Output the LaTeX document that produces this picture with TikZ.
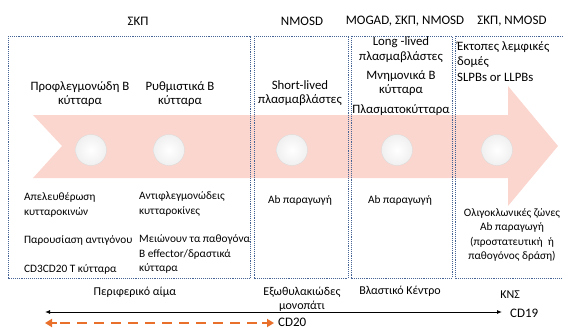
\documentclass[tikz,border=0pt]{standalone}
\usepackage{fontspec}
\setmainfont{Carlito}
\usetikzlibrary{arrows.meta,calc}
\definecolor{pinkarrow}{RGB}{251,214,207}
\definecolor{boxblue}{RGB}{70,100,150}
\definecolor{orangeln}{RGB}{232,112,42}
\begin{document}
\begin{tikzpicture}[x=1pt,y=-1pt,
  boxline/.style={draw=boxblue, densely dotted, line width=0.9pt},
  toplbl/.style={font=\fontsize{13}{15}\selectfont, inner sep=0pt},
  celllbl/.style={font=\fontsize{12.8}{14}\selectfont, inner sep=0pt, align=center},
  smalllbl/.style={font=\fontsize{11.3}{14.5}\selectfont, inner sep=0pt},
  botlbl/.style={font=\fontsize{12}{14}\selectfont, inner sep=0pt},
  cellball/.style={circle, minimum size=31pt, inner sep=0pt, draw=gray!30, line width=0.3pt,
     inner color=white, outer color=gray!12},
  orangetip/.style={orangeln, line width=2.4pt}
]
\useasboundingbox (0,0) rectangle (563,330);
% big pink arrow
\fill[pinkarrow] (33,115) -- (508,115) -- (508,86) -- (558,146) -- (508,206) -- (508,178)
   -- (33,178) -- (62,146) -- cycle;
% boxes
\draw[boxline] (8,36) rectangle (250,278);
\draw[boxline] (254,36) rectangle (348,278);
\draw[boxline] (351,36) rectangle (452,278);
\draw[boxline] (565,36) -- (455,36) -- (455,278) -- (565,278);
% circles
\node[cellball] (c1) at (91,150) {};
\node[cellball] (c2) at (169,150) {};
\node[cellball] (c3) at (292,150) {};
\node[cellball] (c4) at (397,150) {};
\node[cellball] (c5) at (497,150) {};
% top labels
\node[toplbl] (t1) at (138,21) {ΣΚΠ};
\node[toplbl] (t2) at (302,21) {NMOSD};
\node[toplbl] (t3) at (405,21) {MOGAD, ΣΚΠ, NMOSD};
\node[toplbl] (t4) at (512,21) {ΣΚΠ, NMOSD};
% upper cell labels
\node[celllbl] (u1) at (80,94) {Προφλεγμονώδη Β\\κύτταρα};
\node[celllbl] (u2) at (180,94) {Ρυθμιστικά Β\\κύτταρα};
\node[celllbl] (u3) at (300,93) {Short-lived\\πλασμαβλάστες};
\node[celllbl, font=\fontsize{12.8}{15}\selectfont] (u4a) at (401,50) {Long -lived\\πλασμαβλάστες};
\node[celllbl] (u4b) at (401,83) {Μνημονικά Β\\κύτταρα};
\node[celllbl] (u4c) at (401,110) {Πλασματοκύτταρα};
\node[celllbl, align=left, anchor=north west, font=\fontsize{12.8}{15.5}\selectfont] (u5) at (457,41) {Έκτοπες λεμφικές\\δομές\\SLPBs or LLPBs};
% lower labels box 1
\node[smalllbl, align=left, anchor=west] (l1) at (24,205) {Απελευθέρωση\\κυτταροκινών};
\node[smalllbl, anchor=west] (l2) at (24,240) {Παρουσίαση αντιγόνου};
\node[smalllbl, anchor=west] (l3) at (24,269) {CD3CD20 Τ κύτταρα};
\node[smalllbl, align=left, anchor=west] (r1) at (139,204) {Αντιφλεγμονώδεις\\κυτταροκίνες};
\node[smalllbl, align=left, anchor=west] (r2) at (139,254) {Μειώνουν τα παθογόνα\\Β effector/δραστικά\\κύτταρα};
\node[smalllbl] (ab2) at (300,200) {Ab παραγωγή};
\node[smalllbl] (ab3) at (400,200) {Ab παραγωγή};
\node[smalllbl, align=center] (ab5) at (512,235) {Ολιγοκλωνικές ζώνες\\Ab παραγωγή\\(προστατευτική\ \ ή\\παθογόνος δράση)};
% bottom labels
\node[botlbl] (b1) at (135,292) {Περιφερικό αίμα};
\node[botlbl, align=center] (b2) at (302,299) {Εξωθυλακιώδες\\μονοπάτι};
\node[botlbl] (b3) at (400,291) {Βλαστικό Κέντρο};
\node[botlbl] (b4) at (510,295) {ΚΝΣ};
% arrows
\node[toplbl, anchor=west] (cd19) at (510,313) {CD19};
\node[toplbl, anchor=west] (cd20) at (278,322) {CD20};
\coordinate (bl) at (45,312);
\coordinate (br) at ($(cd19.west)+(-8,-1)$);
\draw[{Latex[length=5pt,width=4pt]}-{Latex[length=5pt,width=4pt]}, line width=0.9pt] (bl) -- (br);
\coordinate (ol) at (45,323);
\coordinate (or) at ($(cd20.west)+(-4,1)$);
\draw[orangetip, dash pattern=on 10pt off 7pt, shorten <=15pt, shorten >=13pt] (ol) -- (or);
\draw[orangetip, -{Triangle[length=7pt,width=8pt]}] ($(or)+(-12,0)$) -- (or);
\draw[orangetip, -{Triangle[length=7pt,width=8pt]}] ($(ol)+(12,0)$) -- (ol);
\end{tikzpicture}
\end{document}
